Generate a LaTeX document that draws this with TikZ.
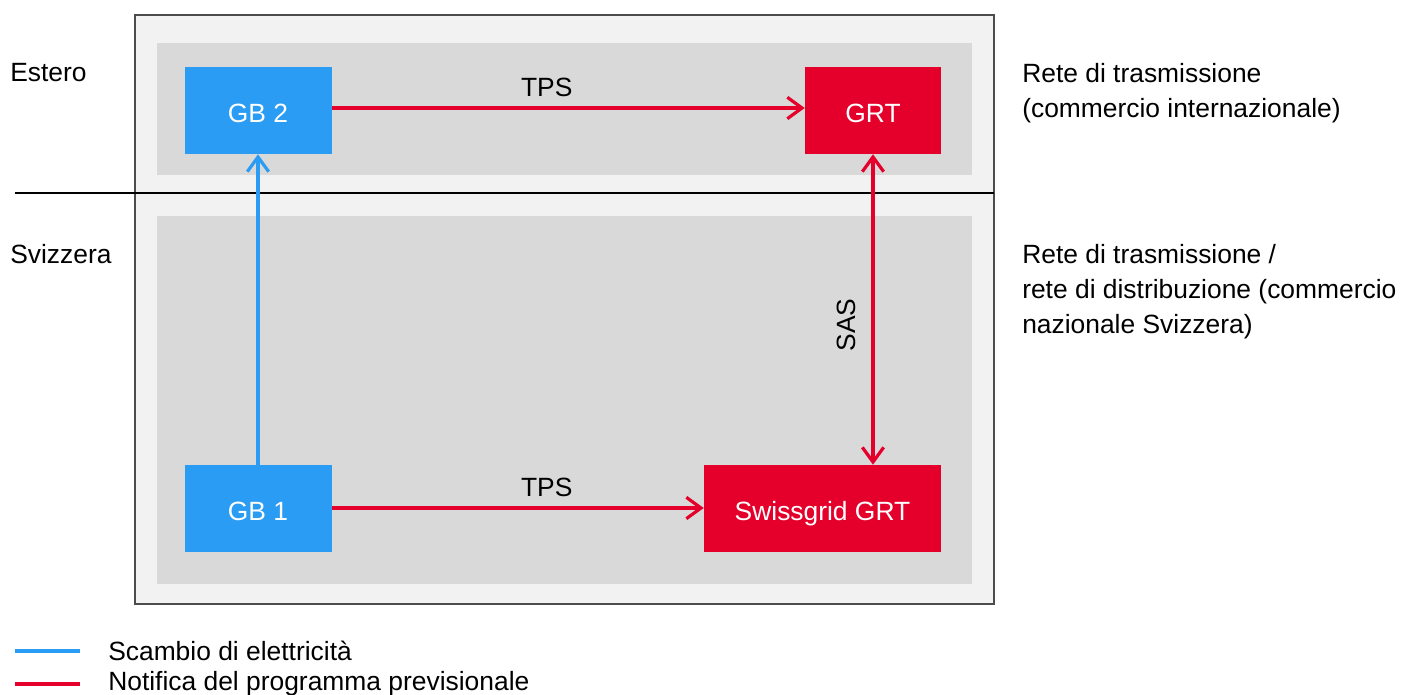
\documentclass[tikz,border=0pt]{standalone}
\usepackage{fontspec}
\setmainfont{Liberation Sans}
\usetikzlibrary{arrows.meta}
\definecolor{gbblue}{HTML}{2B9CF3}
\definecolor{grtred}{HTML}{E4002B}
\definecolor{outerfill}{HTML}{F2F2F2}
\definecolor{innerfill}{HTML}{D9D9D9}
\begin{document}
\begin{tikzpicture}[x=0.75pt,y=-0.75pt,
  txt/.style={font=\fontsize{19.8pt}{26.2pt}\selectfont, inner sep=0pt, text=black},
  box/.style={txt, text=white, minimum height=87*0.75pt, inner sep=0pt, text height=18.2pt, text depth=0pt},
  bluebox/.style={box, fill=gbblue},
  redbox/.style={box, fill=grtred},
  flow/.style={line width=2.4pt, -{Straight Barb[length=11pt,width=16pt,line width=2.4pt]}},
  sideleft/.style={txt, anchor=west},
  sideright/.style={txt, anchor=north west, align=left},
]
\useasboundingbox (0,0) rectangle (1403,695);
% frames
\draw[fill=outerfill, draw=black!70, line width=1pt] (135,15) rectangle (994,604);
\fill[innerfill] (157,43) rectangle (972,175);
\fill[innerfill] (157,216) rectangle (972,584);
\coordinate (sepL) at (15,193);
\coordinate (sepR) at (994,193);
\draw[line width=1.4pt] (sepL) -- (sepR);
% nodes
\node[bluebox, minimum width=147*0.75pt] (gb2) at (258,110.5) {GB 2};
\node[redbox, minimum width=136*0.75pt] (grt) at (873,110.5) {GRT};
\node[bluebox, minimum width=147*0.75pt] (gb1) at (258,508.5) {GB 1};
\node[redbox, minimum width=237*0.75pt] (sg) at (822.5,508.5) {Swissgrid GRT};
% connectors
\draw[flow, gbblue] (gb1.north) -- (gb2.south);
\draw[flow, grtred] (gb2.east |- 0,108) -- node[txt, above=7pt, pos=0.4545] {TPS} (grt.west |- 0,108);
\draw[flow, grtred] (gb1.east |- 0,508) -- node[txt, above=7pt, pos=0.578] {TPS} (sg.west |- 0,508);
\draw[line width=2.4pt, grtred, {Straight Barb[length=11pt,width=16pt,line width=2.4pt]}-{Straight Barb[length=11pt,width=16pt,line width=2.4pt]}] (grt.south) -- node[txt, rotate=90, above=12pt, pos=0.55] {SAS} (grt.south |- sg.north);
% side labels
\node[sideleft] (estero) at (10,73) {Estero};
\node[sideleft] (svizzera) at (10,254) {Svizzera};
\node[sideright] (r1) at (1022,63) {Rete di trasmissione\\(commercio internazionale)};
\node[sideright] (r2) at (1022,244) {Rete di trasmissione /\\rete di distribuzione (commercio\\nazionale Svizzera)};
% legend
\coordinate (l1a) at (15,651); \coordinate (l1b) at (80,651);
\coordinate (l2a) at (15,684); \coordinate (l2b) at (80,684);
\draw[gbblue, line width=3pt] (l1a) -- (l1b);
\draw[grtred, line width=3pt] (l2a) -- (l2b);
\node[sideleft] (leg1) at (108,651) {Scambio di elettricità};
\node[sideleft] (leg2) at (108,684) {Notifica del programma previsionale};
\end{tikzpicture}
\end{document}
